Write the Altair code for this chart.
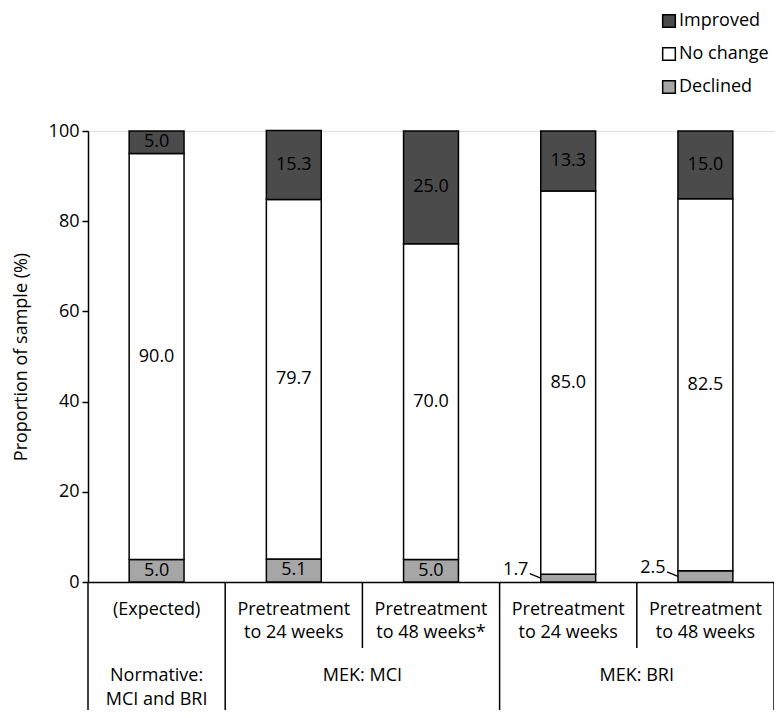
import altair as alt
import pandas as pd

# ---- data ----
periods = ["(Expected)", "Pretreatment|to 24 weeks", "Pretreatment|to 48 weeks*",
           "Pretreatment|to 24 weeks", "Pretreatment|to 48 weeks"]
declined = [5.0, 5.1, 5.0, 1.7, 2.5]
no_change = [90.0, 79.7, 70.0, 85.0, 82.5]
improved = [5.0, 15.3, 25.0, 13.3, 15.0]
statuses = ["Improved", "No change", "Declined"]
colors = ["#4b4b4b", "#ffffff", "#a6a6a6"]
y_ticks = [0, 20, 40, 60, 80, 100]

# group labels (first / last category index of each group)
grp_names = ["Normative:|MCI and BRI", "MEK: MCI", "MEK: BRI"]
grp_first = [0, 1, 3]
grp_last = [0, 2, 4]

# category boundaries: full-height divider between groups, shorter one within a group
bound_idx = [0, 1, 2, 3, 4, 5]
bound_full = [True, True, False, True, False, True]

# ---- build tables ----
keys = [f"{i}|{p}" for i, p in enumerate(periods)]
rows = []
for i, k in enumerate(keys):
    y0 = 0.0
    for st, v in [("Declined", declined[i]), ("No change", no_change[i]), ("Improved", improved[i])]:
        rows.append({"key": k, "idx": i, "status": st, "value": v,
                     "y0": y0, "y1": y0 + v, "mid": y0 + v / 2,
                     "label": f"{v:.1f}", "small": v < 3})
        y0 += v
df = pd.DataFrame(rows)
bounds = pd.DataFrame({"b": bound_idx, "full": bound_full})
gdf = pd.DataFrame({"name": grp_names, "first": grp_first, "last": grp_last})
small = df[df["small"]]

PLOT_W, PLOT_H = 686, 451
FONT = "Open Sans"

band_scale = alt.Scale(paddingInner=0.6, paddingOuter=0.3)
xband = alt.X("key:N", sort=keys, scale=band_scale,
              axis=alt.Axis(title=None, labelExpr="slice(split(datum.label, '|'), 1)",
                            labelAngle=0, labelFontSize=18, labelColor="black",
                            labelPadding=18, labelLineHeight=23,
                            ticks=False, tickSize=0, domainColor="black",
                            domainWidth=1.5, labelFont=FONT))
yscale = alt.Scale(domain=[0, 100])
yaxis = alt.Axis(title="Proportion of sample (%)", values=y_ticks, grid=False,
                 tickSize=6, tickColor="black", tickWidth=1.5,
                 domainColor="black", domainWidth=1.5,
                 labelFontSize=18, labelColor="black", labelPadding=3,
                 titleFontSize=18, titleFontWeight="normal", titleColor="black",
                 titlePadding=18, labelFont=FONT, titleFont=FONT)

bars = alt.Chart(df).mark_bar(stroke="black", strokeWidth=1.5).encode(
    x=xband,
    y=alt.Y("y0:Q", scale=yscale, axis=yaxis),
    y2="y1:Q",
    color=alt.Color("status:N",
                    scale=alt.Scale(domain=statuses, range=colors),
                    legend=alt.Legend(title=None, orient="none", legendX=572, legendY=-119,
                                      symbolType="square", symbolSize=160,
                                      symbolStrokeColor="black", symbolStrokeWidth=1.5,
                                      labelFontSize=18, labelColor="black", labelFont=FONT,
                                      labelOffset=1, rowPadding=13, padding=0)),
)

inner_text = alt.Chart(df).transform_filter("!datum.small").mark_text(
    fontSize=18, color="black", baseline="middle", font=FONT
).encode(x=alt.X("key:N", sort=keys, scale=band_scale, axis=None),
         y=alt.Y("mid:Q", scale=yscale), text="label:N")

xq = alt.X("b:Q", scale=alt.Scale(domain=[0, 5], nice=False, zero=False), axis=None)

sep_full = alt.Chart(bounds).transform_filter("datum.full").mark_rule(
    color="black", strokeWidth=1.5).encode(x=xq, y=alt.value(PLOT_H), y2=alt.value(580))
sep_part = alt.Chart(bounds).transform_filter("!datum.full").mark_rule(
    color="black", strokeWidth=1.5).encode(x=xq, y=alt.value(PLOT_H), y2=alt.value(517))

grp_text = alt.Chart(gdf).transform_calculate(
    b="(datum.first + datum.last + 1) / 2"
).mark_text(fontSize=18, color="black", baseline="top", lineBreak="|",
            lineHeight=24, font=FONT).encode(
    x=xq, y=alt.value(536), text="name:N")

leader = alt.Chart(small).transform_calculate(
    b="datum.idx + 0.22", b2="datum.idx + 0.3",
    ya="datum.value / 2 + 1.0", yb="datum.value / 2"
).mark_rule(color="black", strokeWidth=1.2).encode(
    x=xq, x2="b2:Q", y=alt.Y("ya:Q", scale=yscale), y2="yb:Q")
small_text = alt.Chart(small).transform_calculate(
    b="datum.idx + 0.21", ya="datum.value / 2 + 1.0"
).mark_text(fontSize=18, color="black", align="right", baseline="alphabetic",
            dy=1, font=FONT).encode(
    x=xq, y=alt.Y("ya:Q", scale=yscale), text="label:N")

chart = alt.layer(bars, inner_text, sep_full, sep_part, grp_text, leader, small_text).resolve_scale(
    x="independent"
).properties(
    width=PLOT_W, height=PLOT_H,
    autosize=alt.AutoSizeParams(type="none"),
    padding={"left": 80, "top": 123, "right": 0, "bottom": 128},
).configure_view(stroke=None).configure(font=FONT)

chart.save("out.html", embed_options={"renderer": "svg", "actions": False})
